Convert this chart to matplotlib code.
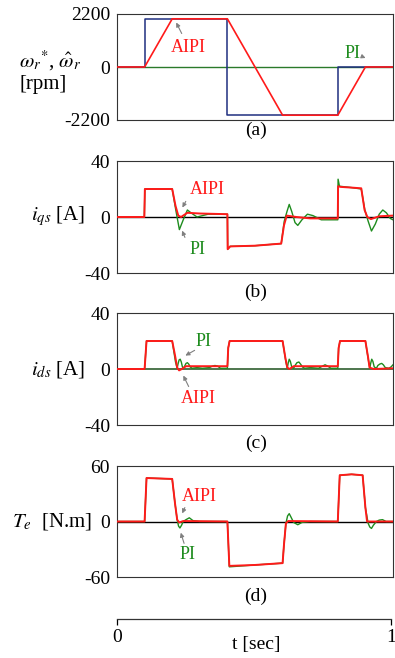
import matplotlib
matplotlib.use('Agg')
import matplotlib.pyplot as plt

plt.rcParams['font.family'] = ['Liberation Serif', 'DejaVu Serif']
plt.rcParams['mathtext.fontset'] = 'stix'

# ---- data ----
# (a) speed [rpm]
t_ref = [0, 0.1, 0.1, 0.4, 0.4, 0.8, 0.8, 1.0]
w_ref = [0, 0, 2000, 2000, -2000, -2000, 0, 0]
t_w = [0, 0.1, 0.2, 0.4, 0.6, 0.8, 0.9, 1.0]
w_aipi = [0, 0, 2000, 2000, -2000, -2000, 0, 0]

# (b) iqs [A]
t_iqs_aipi = [0, 0.099, 0.101, 0.2, 0.212, 0.222, 0.232, 0.255, 0.3, 0.4, 0.401, 0.41, 0.5,
              0.595, 0.605, 0.615, 0.65, 0.7, 0.8, 0.801, 0.81, 0.85, 0.885, 0.897, 0.907,
              0.92, 0.95, 1.0]
iqs_aipi = [0, 0, 20, 20, 8, 1, 0, 3, 2.5, 2, -23, -21, -20.5,
            -19, -6, 1, 0, -1, -1, 22, 21.5, 21, 20.5, 5, 0,
            -1.5, 0.5, 1]
t_iqs_pi = [0, 0.099, 0.101, 0.2, 0.213, 0.226, 0.24, 0.255, 0.268, 0.29, 0.31, 0.33, 0.4,
            0.401, 0.41, 0.5, 0.595, 0.606, 0.616, 0.624, 0.633, 0.645, 0.655, 0.67, 0.69,
            0.71, 0.74, 0.8, 0.801, 0.806, 0.85, 0.885, 0.898, 0.91, 0.922, 0.936, 0.95,
            0.963, 0.976, 0.99, 1.0]
iqs_pi = [0, 0, 20, 20, 5, -9, -2, 5, 3, 0, 1, 2, 2,
          -23, -21, -20.5, -19, -3, 4, 9, 4, -4, -6, -2, 2,
          1, -2, -2, 27, 22, 21, 20, 5, -3, -10, -5, 2,
          5, 3, -1, -2]

# (c) ids [A]
t_ids_aipi = [0, 0.1, 0.107, 0.2, 0.21, 0.218, 0.225, 0.235, 0.25, 0.4, 0.403, 0.408, 0.6,
              0.61, 0.617, 0.625, 0.64, 0.8, 0.803, 0.808, 0.9, 0.91, 0.915, 0.93, 1.0]
ids_aipi = [0, 0, 20, 20, 10, 1, -1, 0, 2, 2, 15, 20, 20,
            8, 1, 0, 2, 2, 15, 20, 20, 8, 1, 0, 0.5]
t_ids_pi = [0, 0.1, 0.107, 0.2, 0.212, 0.218, 0.221, 0.225, 0.229, 0.233, 0.237, 0.24, 0.245,
            0.25, 0.255, 0.26, 0.265, 0.272, 0.29, 0.31, 0.335, 0.345, 0.355, 0.365, 0.375,
            0.4, 0.403, 0.408, 0.6, 0.612, 0.617, 0.62, 0.624, 0.628, 0.633, 0.64, 0.645,
            0.652, 0.659, 0.665, 0.672, 0.68, 0.7, 0.73, 0.744, 0.754, 0.764, 0.775, 0.8,
            0.803, 0.808, 0.9, 0.912, 0.916, 0.919, 0.923, 0.927, 0.932, 0.94, 0.945, 0.952,
            0.959, 0.965, 0.972, 0.985, 0.993, 1.0]
ids_pi = [0, 0, 20, 20, 5, 0.5, 3.5, 6.5, 7, 5, 1.5, 0.3, 2,
          4, 4.5, 3.5, 1.5, 0.5, 1, 0.5, 1, 2, 2.5, 2, 0.5,
          0.5, 15, 20, 20, 5, 0.5, 4, 7, 5.5, 1.5, 0.5, 2.5,
          4.5, 5, 3.5, 1.5, 0.5, 1, 0.5, 2, 3, 2, 0.5, 0.5,
          15, 20, 20, 5, 0.5, 4, 7, 5.5, 1.5, 0.5, 2.5, 3.5,
          4, 3, 1, 0.5, 1.5, 3]

# (d) Te [N.m]
t_te_aipi = [0, 0.1, 0.107, 0.2, 0.21, 0.218, 0.225, 0.24, 0.4, 0.407, 0.5, 0.6, 0.605,
             0.612, 0.62, 0.8, 0.807, 0.85, 0.89, 0.9, 0.906, 0.93, 1.0]
te_aipi = [0, 0, 47, 46, 20, 2, -1, 0.5, 0, -48, -47, -45, -25,
           -2, 0.5, 0, 50, 51, 50, 15, 0, 0, 0]
t_te_pi = [0, 0.1, 0.107, 0.2, 0.21, 0.218, 0.223, 0.228, 0.234, 0.24, 0.25, 0.262, 0.275,
           0.3, 0.4, 0.407, 0.5, 0.6, 0.605, 0.612, 0.618, 0.624, 0.63, 0.64, 0.655,
           0.67, 0.7, 0.8, 0.807, 0.85, 0.89, 0.9, 0.91, 0.916, 0.922, 0.929, 0.94,
           0.95, 0.962, 0.975, 1.0]
te_pi = [0, 0, 47, 46, 20, 2, -5, -7, -4, 0, 2, 4, 1,
         0, 0, -49, -47, -45, -25, -2, 6, 8.5, 5, -1, -3.5,
         -1, 0, 0, 50, 51, 50, 15, -2, -6, -7.5, -4, 0,
         1.5, 2, 0, 0]

RED = '#ff1a1a'
GREEN = '#1e8c1e'
BLUE = '#1f2f80'
W, H = 395.0, 658.0


def box(top, bottom):
    return [117 / W, 1 - bottom / H, 276 / W, (bottom - top) / H]


fig = plt.figure(figsize=(3.95, 6.58), dpi=100)

axes = []
for top, bottom in [(14, 120), (161, 273), (313, 425), (466, 577)]:
    ax = fig.add_axes(box(top, bottom))
    ax.set_xlim(0, 1)
    ax.set_xticks([])
    ax.tick_params(axis='y', length=0, pad=5, labelsize=14)
    for s in ax.spines.values():
        s.set_color('#333333')
        s.set_linewidth(0.8)
    axes.append(ax)

ax1, ax2, ax3, ax4 = axes

# (a)
ax1.axhline(0, color='#2a7a2a', lw=1.0, zorder=1)
ax1.plot(t_ref, w_ref, color=BLUE, lw=1.1, zorder=2)
ax1.plot(t_w, w_aipi, color=RED, lw=1.2, zorder=3)
ax1.set_ylim(-2200, 2200)
ax1.set_yticks([-2200, 0, 2200])
ax1.set_yticklabels(['-2200', '0', '2200'])

# (b)
ax2.axhline(0, color='black', lw=1.0, zorder=1)
ax2.plot(t_iqs_pi, iqs_pi, color=GREEN, lw=1.0, zorder=2)
ax2.plot(t_iqs_aipi, iqs_aipi, color=RED, lw=1.4, zorder=3)
ax2.set_ylim(-40, 40)
ax2.set_yticks([-40, 0, 40])
ax2.set_yticklabels(['-40', '0', '40'])

# (c)
ax3.axhline(0, color='#2f5f2f', lw=1.2, zorder=1)
ax3.plot(t_ids_pi, ids_pi, color=GREEN, lw=1.0, zorder=2)
ax3.plot(t_ids_aipi, ids_aipi, color=RED, lw=1.4, zorder=3)
ax3.set_ylim(-40, 40)
ax3.set_yticks([-40, 0, 40])
ax3.set_yticklabels(['-40', '0', '40'])

# (d)
ax4.axhline(0, color='black', lw=1.0, zorder=1)
ax4.plot(t_te_pi, te_pi, color=GREEN, lw=1.0, zorder=2)
ax4.plot(t_te_aipi, te_aipi, color=RED, lw=1.4, zorder=3)
ax4.set_ylim(-60, 60)
ax4.set_yticks([-60, 0, 60])
ax4.set_yticklabels(['-60', '0', '60'])

# labels with arrows
arr = dict(arrowstyle='-|>', color='#808080', lw=0.8, mutation_scale=6)


def label(ax, txt, col, pos, start, tip):
    ax.text(pos[0], pos[1], txt, color=col, fontsize=13, ha='center', va='center', zorder=5)
    ax.annotate('', xy=tip, xytext=start, arrowprops=arr, zorder=5)


label(ax1, 'AIPI', RED, (0.257, 830), (0.239, 1287), (0.21, 1950))
label(ax1, 'PI', GREEN, (0.854, 581), (0.878, 480), (0.91, 330))
label(ax2, 'AIPI', RED, (0.326, 20), (0.254, 12.9), (0.232, 5))
label(ax2, 'PI', GREEN, (0.293, -22.9), (0.25, -16.4), (0.232, -7.9))
label(ax3, 'PI', GREEN, (0.312, 19.3), (0.29, 14.3), (0.239, 8.6))
label(ax3, 'AIPI', RED, (0.293, -21.4), (0.264, -14.3), (0.236, -2.9))
label(ax4, 'AIPI', RED, (0.297, 26.5), (0.25, 17.8), (0.232, 6))
label(ax4, 'PI', GREEN, (0.257, -36.2), (0.246, -26.5), (0.228, -9.2))

# y labels
fig.text(50 / W, 1 - 61 / H, r'$\omega_r{}^{*}$, $\hat{\omega}_r$', fontsize=15,
         ha='center', va='center')
fig.text(43 / W, 1 - 84 / H, '[rpm]', fontsize=15, ha='center', va='center')
fig.text(58 / W, 1 - 216 / H, r'$i_{qs}$ [A]', fontsize=15, ha='center', va='center')
fig.text(58 / W, 1 - 369 / H, r'$i_{ds}$ [A]', fontsize=15, ha='center', va='center')
fig.text(52 / W, 1 - 522 / H, r'$T_e$  [N.m]', fontsize=15, ha='center', va='center')

# captions
for cap, y in [('(a)', 130), ('(b)', 292), ('(c)', 443), ('(d)', 596)]:
    fig.text(256 / W, 1 - y / H, cap, fontsize=14, ha='center', va='center')

# time axis
axt = fig.add_axes([117 / W, 1 - 619 / H, 274 / W, 0.0001])
axt.set_xlim(0, 1)
axt.set_yticks([])
for s in ['left', 'right', 'top']:
    axt.spines[s].set_visible(False)
axt.spines['bottom'].set_color('#333333')
axt.spines['bottom'].set_linewidth(0.9)
axt.set_xticks([0, 1])
axt.set_xticklabels(['0', '1'])
axt.tick_params(axis='x', direction='out', length=4.5, width=0.9, pad=3, labelsize=14)
fig.text(256 / W, 1 - 645 / H, 't [sec]', fontsize=14, ha='center', va='center')

fig.savefig('out.png', dpi=100)
